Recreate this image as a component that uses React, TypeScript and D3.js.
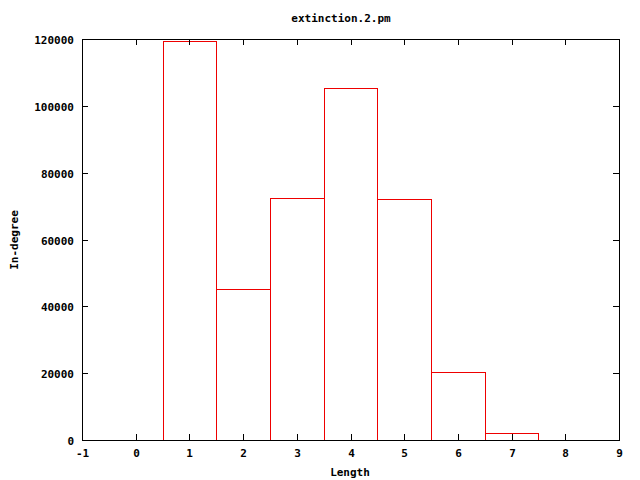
import React, { useEffect, useRef } from "react";
import * as d3 from "d3";

// histogram of extinction.2.pm
const lengths = [1, 2, 3, 4, 5, 6, 7];
const inDegree = [119400, 45100, 72300, 105400, 72000, 20200, 2100];
const xTicks = [-1, 0, 1, 2, 3, 4, 5, 6, 7, 8, 9];
const yTicks = [0, 20000, 40000, 60000, 80000, 100000, 120000];

const App: React.FC = () => {
  const svgRef = useRef<SVGSVGElement | null>(null);

  useEffect(() => {
    if (!svgRef.current) return;
    const width = 640;
    const height = 480;
    const margin = { top: 39, right: 21, bottom: 40, left: 82 };
    const innerWidth = width - margin.left - margin.right;
    const innerHeight = height - margin.top - margin.bottom;
    const font = "DejaVu Sans Mono, monospace";
    const red = "#ee0000";

    d3.select(svgRef.current).selectAll("*").remove();

    const root = d3
      .select(svgRef.current)
      .attr("width", width)
      .attr("height", height);

    root.append("rect").attr("width", width).attr("height", height).attr("fill", "white");

    const svg = root
      .append("g")
      .attr("transform", `translate(${margin.left},${margin.top})`);

    const xScale = d3.scaleLinear().domain([-1, 9]).range([0, innerWidth]);
    const yScale = d3.scaleLinear().domain([0, 120000]).range([innerHeight, 0]);

    // bars: outline drawn as 1px filled strips so colours stay solid
    const bars = svg
      .selectAll(".bar")
      .data(lengths)
      .enter()
      .append("g")
      .attr("class", "bar");

    bars.each(function (d, i) {
      const g = d3.select(this);
      const x0 = Math.round(xScale(d - 0.5));
      const x1 = Math.round(xScale(d + 0.5));
      const yb = Math.round(yScale(0));
      const yt = Math.round(yScale(inDegree[i]));
      g.append("rect").attr("x", x0).attr("y", yt).attr("width", 1).attr("height", yb - yt).attr("fill", red);
      g.append("rect").attr("x", x1).attr("y", yt).attr("width", 1).attr("height", yb - yt).attr("fill", red);
      g.append("rect").attr("x", x0).attr("y", yt).attr("width", x1 - x0 + 1).attr("height", 1).attr("fill", red);
    });

    // frame
    svg
      .append("rect")
      .attr("x", 0.5)
      .attr("y", 0.5)
      .attr("width", Math.round(innerWidth))
      .attr("height", Math.round(innerHeight))
      .attr("fill", "none")
      .attr("stroke", "black")
      .attr("stroke-width", 1);

    const tickLen = 6;

    // x ticks, mirrored on top
    xTicks.forEach((t) => {
      const x = Math.round(xScale(t)) + 0.5;
      svg.append("line").attr("x1", x).attr("x2", x).attr("y1", innerHeight).attr("y2", innerHeight - tickLen)
        .attr("stroke", "black");
      svg.append("line").attr("x1", x).attr("x2", x).attr("y1", 0).attr("y2", tickLen)
        .attr("stroke", "black");
      svg.append("text")
        .attr("x", x)
        .attr("y", innerHeight + 17)
        .attr("text-anchor", "middle")
        .attr("font-family", font)
        .attr("font-weight", "bold")
        .attr("font-size", "11px")
        .text(t);
    });

    // y ticks, mirrored on right
    yTicks.forEach((t) => {
      const y = Math.round(yScale(t)) + 0.5;
      svg.append("line").attr("x1", 0).attr("x2", tickLen).attr("y1", y).attr("y2", y)
        .attr("stroke", "black");
      svg.append("line").attr("x1", innerWidth).attr("x2", innerWidth - tickLen).attr("y1", y).attr("y2", y)
        .attr("stroke", "black");
      svg.append("text")
        .attr("x", -8)
        .attr("y", y + 4)
        .attr("text-anchor", "end")
        .attr("font-family", font)
        .attr("font-weight", "bold")
        .attr("font-size", "11px")
        .text(t);
    });

    // title and axis labels
    root.append("text")
      .attr("x", 341)
      .attr("y", 22)
      .attr("text-anchor", "middle")
      .attr("font-family", font)
      .attr("font-weight", "bold")
      .attr("font-size", "11px")
      .text("extinction.2.pm");

    root.append("text")
      .attr("x", 350)
      .attr("y", 476)
      .attr("text-anchor", "middle")
      .attr("font-family", font)
      .attr("font-weight", "bold")
      .attr("font-size", "11px")
      .text("Length");

    root.append("text")
      .attr("transform", "translate(18,240) rotate(-90)")
      .attr("text-anchor", "middle")
      .attr("font-family", font)
      .attr("font-weight", "bold")
      .attr("font-size", "11px")
      .text("In-degree");
  }, []);

  return (
    <svg
      ref={svgRef}
      style={{ position: "absolute", left: 0, top: 0, display: "block" }}
    />
  );
};

export default App;
